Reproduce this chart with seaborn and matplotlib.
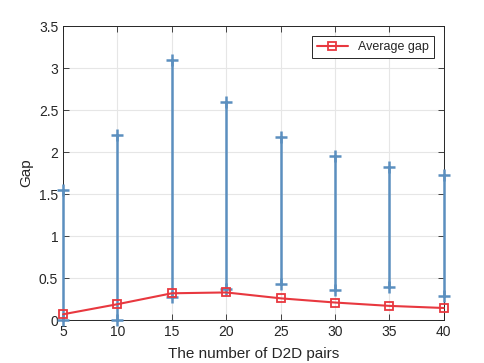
import matplotlib
matplotlib.use("Agg")
import matplotlib.pyplot as plt
import seaborn as sns
import pandas as pd
from matplotlib.ticker import FuncFormatter

# data
d2d_pairs = [5, 10, 15, 20, 25, 30, 35, 40]
avg_gap = [0.07, 0.19, 0.32, 0.33, 0.26, 0.21, 0.17, 0.145]
gap_max = [1.55, 2.20, 3.10, 2.60, 2.18, 1.95, 1.82, 1.73]
gap_min = [0.00, 0.00, 0.27, 0.37, 0.43, 0.36, 0.39, 0.29]

df = pd.DataFrame({"pairs": d2d_pairs, "avg": avg_gap, "lo": gap_min, "hi": gap_max})

sns.set_style("whitegrid")
plt.rcParams['font.family'] = ['Liberation Sans', 'DejaVu Sans']

fig = plt.figure(figsize=(4.85, 3.63), dpi=100)
ax = fig.add_axes([0.13, 0.118, 0.785, 0.81])

blue = "#5b8fbf"
red = "#e8383f"

# min/max range bars (drawn above the axes box like MATLAB)
ax.vlines(df["pairs"], df["lo"], df["hi"], color=blue, lw=1.8, zorder=3, clip_on=False)
for col in ["hi", "lo"]:
    ax.plot(df["pairs"], df[col], ls="none", marker="+", ms=9, mew=1.8, color=blue,
            zorder=3, clip_on=False)

sns.lineplot(data=df, x="pairs", y="avg", ax=ax, color=red, lw=1.5, marker="s",
             markersize=6, markerfacecolor="none", markeredgecolor=red, markeredgewidth=1.3,
             label="Average gap", zorder=4, clip_on=False)

ax.set_xlim(5, 40)
ax.set_ylim(0, 3.5)
ax.set_xticks(d2d_pairs)
ax.set_yticks([0, 0.5, 1, 1.5, 2, 2.5, 3, 3.5])
ax.yaxis.set_major_formatter(FuncFormatter(lambda v, p: "%g" % v))
ax.set_xlabel("The number of D2D pairs", fontsize=11, color="#262626", labelpad=6)
ax.set_ylabel("Gap", fontsize=11, color="#262626", labelpad=4)

ax.grid(True, color="#e6e6e6", lw=0.8)
ax.tick_params(direction="in", length=4, width=0.6, colors="#262626", labelsize=10,
               top=True, right=True, left=True, bottom=True)
for s in ax.spines.values():
    s.set_visible(True)
    s.set_color("#262626")
    s.set_linewidth(0.7)

leg = ax.legend(loc="upper right", fontsize=9, frameon=True, fancybox=False,
                edgecolor="#262626", framealpha=1, borderaxespad=0.8, handlelength=2.5)
leg.get_frame().set_linewidth(0.7)
leg.set_zorder(5)

fig.savefig("out.png", dpi=100)
